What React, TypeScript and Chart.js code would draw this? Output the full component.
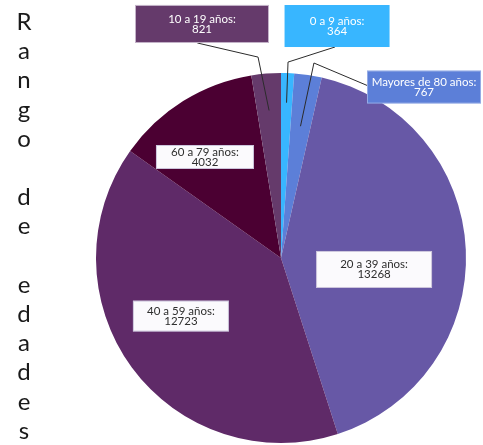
import React, { useEffect, useRef } from "react";
import { Chart, registerables } from "chart.js";

Chart.register(...registerables);

const categories = ["0 a 9 años", "Mayores de 80 años", "20 a 39 años", "40 a 59 años", "60 a 79 años", "10 a 19 años"];
const values = [364, 767, 13268, 12723, 4032, 821];
const colors = ["#38b6ff", "#5c7fd8", "#6758a6", "#5f2a68", "#4b0032", "#653a6b"];
const titleText = "Rango de edades";

// label layout per slice: box centre offset (in radius units), box size (px), style, connector
const labelLayout = [
  { bx: 0.303, by: -1.254, w: 105, h: 42, fill: "#38b6ff", text: "#ffffff", stroke: null, anchor: 0.84, elbow: [0.038, -1.059], attach: [-0.04, 1] },
  { bx: 0.773, by: -0.924, w: 114, h: 33, fill: "#5c7fd8", text: "#ffffff", stroke: "rgba(255,255,255,0.35)", anchor: 0.72, elbow: [0.178, -1.054], attach: [-1, -0.1] },
  { bx: 0.503, by: 0.062, w: 116, h: 37, fill: "#fbfafd", text: "#2e2e2e", stroke: "rgba(120,100,160,0.35)", anchor: null, elbow: null, attach: null },
  { bx: -0.541, by: 0.314, w: 96, h: 31, fill: "#fbfafd", text: "#2e2e2e", stroke: "rgba(120,100,160,0.35)", anchor: null, elbow: null, attach: null },
  { bx: -0.411, by: -0.546, w: 98, h: 24, fill: "#fbfafd", text: "#2e2e2e", stroke: "rgba(120,100,160,0.35)", anchor: null, elbow: null, attach: null },
  { bx: -0.427, by: -1.265, w: 134, h: 38, fill: "#653a6b", text: "#ffffff", stroke: "rgba(220,210,225,0.8)", anchor: 0.8, elbow: [-0.124, -1.086], attach: [-0.07, 1] },
];

const labelPlugin = {
  id: "pieLabels",
  afterDatasetsDraw(chart: any) {
    const ctx = chart.ctx;
    const meta = chart.getDatasetMeta(0);
    ctx.save();
    meta.data.forEach((arc: any, i: number) => {
      const L = labelLayout[i];
      const { x, y, outerRadius: R, startAngle, endAngle } = arc.getProps(["x", "y", "outerRadius", "startAngle", "endAngle"], true);
      const cx = x + L.bx * R;
      const cy = y + L.by * R;
      if (L.anchor && L.elbow && L.attach) {
        const mid = (startAngle + endAngle) / 2;
        const ax = x + Math.cos(mid) * R * L.anchor;
        const ay = y + Math.sin(mid) * R * L.anchor;
        const ex = x + L.elbow[0] * R;
        const ey = y + L.elbow[1] * R;
        const tx = cx + (L.attach[0] * L.w) / 2;
        const ty = cy + (L.attach[1] * L.h) / 2;
        ctx.beginPath();
        ctx.moveTo(ax, ay);
        ctx.lineTo(ex, ey);
        ctx.lineTo(tx, ty);
        ctx.strokeStyle = "#2b2b2b";
        ctx.lineWidth = 1;
        ctx.stroke();
      }
      ctx.fillStyle = L.fill;
      ctx.fillRect(cx - L.w / 2, cy - L.h / 2, L.w, L.h);
      if (L.stroke) {
        ctx.strokeStyle = L.stroke;
        ctx.lineWidth = 1;
        ctx.strokeRect(cx - L.w / 2 + 0.5, cy - L.h / 2 + 0.5, L.w - 1, L.h - 1);
      }
      ctx.fillStyle = L.text;
      ctx.font = "11.5px Lato";
      ctx.textAlign = "center";
      ctx.textBaseline = "middle";
      ctx.fillText(categories[i] + ":", cx, cy - 5);
      ctx.fillText(String(values[i]), cx, cy + 5);
    });
    ctx.restore();
  },
};

const titlePlugin = {
  id: "verticalTitle",
  afterDraw(chart: any) {
    const ctx = chart.ctx;
    ctx.save();
    ctx.fillStyle = "#1a1a1a";
    ctx.font = "24px Lato";
    ctx.textAlign = "center";
    ctx.textBaseline = "alphabetic";
    const chars = titleText.split("");
    chars.forEach((c, i) => {
      if (c !== " ") ctx.fillText(c, 24, 30 + i * 29.2);
    });
    ctx.restore();
  },
};

export default function App() {
  const ref = useRef<HTMLCanvasElement | null>(null);
  useEffect(() => {
    document.body.style.margin = "0";
    if (!ref.current) return;
    const chart = new Chart(ref.current, {
      type: "pie",
      data: {
        labels: categories,
        datasets: [{ data: values, backgroundColor: colors, borderWidth: 0 }],
      },
      options: {
        animation: false,
        responsive: false,
        layout: { padding: { left: 96, right: 17, top: 73, bottom: 2 } },
        plugins: { legend: { display: false }, tooltip: { enabled: false }, title: { display: false } },
      },
      plugins: [labelPlugin, titlePlugin],
    });
    return () => chart.destroy();
  }, []);
  return (
    <div style={{ width: 483, height: 445 }}>
      <canvas ref={ref} width={483} height={445} style={{ display: "block" }} />
    </div>
  );
}
